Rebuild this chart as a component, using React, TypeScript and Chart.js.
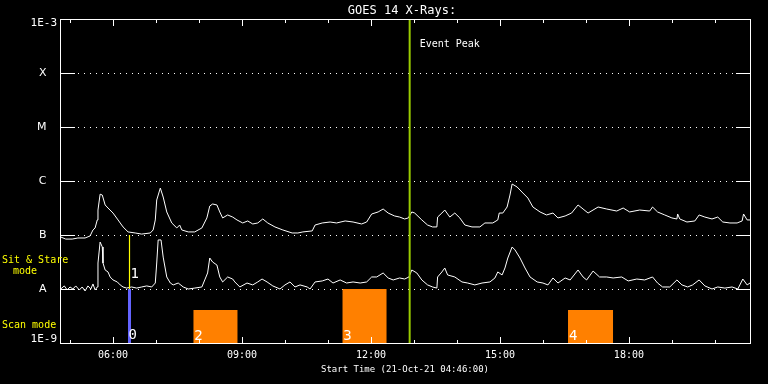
import React, { useEffect, useRef } from "react";
import { Chart, registerables } from "chart.js";

Chart.register(...registerables);

// ---- axis ranges / ticks ----
const startTime = "04:46";
const endTime = "20:49";
const hourTicks = ["05:00","06:00","07:00","08:00","09:00","10:00","11:00","12:00","13:00","14:00","15:00","16:00","17:00","18:00","19:00","20:00"];
const yTickValues = [1e-9, 1e-8, 1e-7, 1e-6, 1e-5, 1e-4, 1e-3];
const yTickLabels = ["1E-9", "A", "B", "C", "M", "X", "1E-3"];

// ---- GOES long channel (1-8 Å), W/m² ----
const longTimes = [
  "04:47","04:54","05:03","05:11","05:21","05:28","05:32","05:35","05:38","05:39",
  "05:42","05:45","05:49","05:53","06:00","06:07","06:14","06:21","06:31","06:40",
  "06:52","06:56","06:59","07:01","07:06","07:10","07:15","07:22","07:29","07:33",
  "07:36","07:45","07:54","08:04","08:11","08:15","08:19","08:25","08:29","08:33",
  "08:40","08:47","08:53","09:01","09:08","09:15","09:22","09:29","09:36","09:46",
  "09:57","10:10","10:18","10:25","10:38","10:42","10:52","11:03","11:12","11:24",
  "11:35","11:47","11:54","12:01","12:10","12:17","12:24","12:33","12:40","12:47",
  "12:52","12:57","13:01","13:11","13:19","13:26","13:32","13:33","13:39","13:43",
  "13:50","13:57","14:04","14:11","14:21","14:32","14:39","14:50","14:57","14:59",
  "15:04","15:10","15:14","15:17","15:24","15:32","15:39","15:46","15:56","16:05",
  "16:14","16:21","16:31","16:40","16:49","16:56","17:03","17:17","17:29","17:43",
  "17:52","18:01","18:15","18:29","18:33","18:40","18:50","19:00","19:07","19:08",
  "19:11","19:21","19:32","19:38","19:46","19:56","20:04","20:11","20:21","20:31",
  "20:38","20:40","20:45","20:49"
];
const longFlux = [
  9.2e-8,8.4e-8,8.4e-8,8.8e-8,8.8e-8,9.6e-8,1.24e-7,1.35e-7,1.9e-7,2.9e-7,
  5.7e-7,5.5e-7,3.6e-7,3.16e-7,2.55e-7,1.9e-7,1.41e-7,1.14e-7,1.09e-7,1.04e-7,
  1.09e-7,1.24e-7,1.9e-7,4.45e-7,7.4e-7,5.05e-7,2.67e-7,1.67e-7,1.35e-7,1.53e-7,
  1.24e-7,1.14e-7,1.14e-7,1.35e-7,2.07e-7,3.44e-7,3.75e-7,3.6e-7,2.67e-7,2.07e-7,
  2.35e-7,2.15e-7,1.9e-7,1.67e-7,1.82e-7,1.6e-7,1.67e-7,1.98e-7,1.67e-7,1.41e-7,
  1.24e-7,1.09e-7,1.09e-7,1.14e-7,1.19e-7,1.53e-7,1.67e-7,1.74e-7,1.67e-7,1.82e-7,
  1.74e-7,1.6e-7,1.74e-7,2.45e-7,2.67e-7,3.03e-7,2.55e-7,2.25e-7,2.15e-7,1.98e-7,
  2.07e-7,2.67e-7,2.55e-7,1.9e-7,1.53e-7,1.41e-7,1.41e-7,2.15e-7,2.55e-7,2.9e-7,
  2.15e-7,2.55e-7,2.07e-7,1.53e-7,1.41e-7,1.41e-7,1.67e-7,1.67e-7,1.9e-7,2.55e-7,
  2.55e-7,3.3e-7,5.5e-7,8.8e-7,7.74e-7,6.0e-7,4.84e-7,3.3e-7,2.67e-7,2.35e-7,
  2.55e-7,2.07e-7,2.25e-7,2.55e-7,3.6e-7,3.03e-7,2.55e-7,3.3e-7,3.03e-7,2.78e-7,
  3.16e-7,2.67e-7,2.9e-7,2.78e-7,3.3e-7,2.67e-7,2.35e-7,2.07e-7,1.98e-7,2.45e-7,
  1.98e-7,1.74e-7,1.82e-7,2.35e-7,2.15e-7,1.98e-7,2.15e-7,1.74e-7,1.67e-7,1.67e-7,
  1.82e-7,2.45e-7,1.9e-7,1.9e-7
];

// ---- GOES short channel (0.5-4 Å), W/m² ----
const shortTimes = [
  "04:47","04:52","04:56","05:00","05:04","05:08","05:13","05:17","05:21","05:25",
  "05:29","05:32","05:35","05:38","05:39","05:42","05:45","05:46","05:49","05:53",
  "05:56","06:00","06:06","06:10","06:14","06:19","06:26","06:33","06:40","06:47",
  "06:54","06:59","07:01","07:03","07:07","07:10","07:15","07:20","07:24","07:31",
  "07:38","07:45","07:54","08:04","08:08","08:12","08:15","08:19","08:25","08:29",
  "08:33","08:40","08:47","08:50","08:57","09:07","09:15","09:22","09:28","09:35",
  "09:43","09:53","10:00","10:07","10:14","10:21","10:31","10:35","10:42","10:52",
  "11:00","11:07","11:17","11:26","11:35","11:45","11:54","12:01","12:08","12:17",
  "12:24","12:31","12:40","12:47","12:53","12:57","13:04","13:11","13:19","13:26",
  "13:32","13:33","13:39","13:43","13:47","13:57","14:07","14:15","14:25","14:35",
  "14:46","14:53","14:57","15:03","15:07","15:11","15:17","15:21","15:28","15:35",
  "15:42","15:52","16:00","16:07","16:14","16:21","16:31","16:38","16:49","16:56",
  "17:01","17:10","17:19","17:29","17:38","17:50","17:59","18:11","18:22","18:33",
  "18:40","18:47","18:57","19:07","19:14","19:22","19:29","19:38","19:46","19:56",
  "20:04","20:14","20:24","20:32","20:39","20:45","20:49"
];
const shortFlux = [
  1.0e-8,1.14e-8,9.6e-9,1.09e-8,1.0e-8,1.14e-8,9.6e-9,1.09e-8,9.2e-9,1.14e-8,
  1.0e-8,1.24e-8,9.6e-9,1.09e-8,3.03e-8,7.4e-8,6.0e-8,3.03e-8,2.25e-8,2.07e-8,
  1.67e-8,1.47e-8,1.35e-8,1.19e-8,1.09e-8,1.04e-8,1.09e-8,1.04e-8,1.09e-8,1.14e-8,
  1.09e-8,1.29e-8,3.03e-8,8.1e-8,8.1e-8,3.9e-8,1.67e-8,1.29e-8,1.19e-8,1.29e-8,
  1.09e-8,1.0e-8,1.04e-8,1.09e-8,1.47e-8,1.98e-8,3.75e-8,3.16e-8,2.78e-8,1.67e-8,
  1.35e-8,1.67e-8,1.53e-8,1.35e-8,1.09e-8,1.29e-8,1.19e-8,1.35e-8,1.53e-8,1.35e-8,
  1.14e-8,1.0e-8,1.19e-8,1.35e-8,1.09e-8,1.19e-8,1.09e-8,1.0e-8,1.35e-8,1.41e-8,
  1.53e-8,1.29e-8,1.47e-8,1.29e-8,1.35e-8,1.29e-8,1.35e-8,1.67e-8,1.67e-8,1.98e-8,
  1.6e-8,1.47e-8,1.6e-8,1.53e-8,1.67e-8,2.25e-8,1.98e-8,1.47e-8,1.19e-8,1.09e-8,
  1.04e-8,1.67e-8,2.07e-8,2.45e-8,1.82e-8,1.67e-8,1.35e-8,1.29e-8,1.19e-8,1.29e-8,
  1.35e-8,1.6e-8,2.07e-8,1.82e-8,2.45e-8,3.75e-8,6.0e-8,5.3e-8,3.75e-8,2.45e-8,
  1.67e-8,1.35e-8,1.29e-8,1.19e-8,1.6e-8,1.29e-8,1.6e-8,1.47e-8,2.25e-8,1.67e-8,
  1.47e-8,2.15e-8,1.67e-8,1.67e-8,1.6e-8,1.67e-8,1.41e-8,1.53e-8,1.47e-8,1.67e-8,
  1.29e-8,1.09e-8,1.09e-8,1.47e-8,1.19e-8,1.09e-8,1.19e-8,1.47e-8,1.14e-8,1.0e-8,
  1.09e-8,1.04e-8,1.09e-8,1.0e-8,1.53e-8,1.19e-8,1.29e-8
];

// ---- observation markers ----
const scanStarts = ["07:52", "11:20", "16:35"];
const scanEnds = ["08:54", "12:22", "17:38"];
const scanTops = [4.1e-9, 1.0e-8, 4.1e-9];
const scanLabels = ["2", "3", "4"];
const sitStareTime = "06:23";
const sitStareLabels = ["0", "1"];
const eventPeakTime = "12:54";

const toMin = (s: string) => {
  const [h, m] = s.split(":").map(Number);
  return h * 60 + m;
};
const pad2 = (n: number) => (n < 10 ? "0" + n : "" + n);

const MONO = "'DejaVu Sans Mono', 'Liberation Mono', monospace";
const SANS = "'DejaVu Sans', 'Liberation Sans', sans-serif";

const overlay = {
  id: "idlOverlay",
  beforeDatasetsDraw(chart: any) {
    const { ctx, chartArea: a, scales } = chart;
    const y = scales.y;
    ctx.save();
    ctx.strokeStyle = "#ffffff";
    ctx.lineWidth = 1;
    ctx.setLineDash([1, 5]);
    for (const v of yTickValues.slice(1, -1)) {
      const py = Math.round(y.getPixelForValue(v)) + 0.5;
      ctx.beginPath();
      ctx.moveTo(a.left, py);
      ctx.lineTo(a.right, py);
      ctx.stroke();
    }
    ctx.restore();
  },
  afterDatasetsDraw(chart: any) {
    const { ctx, chartArea: a, scales } = chart;
    const x = scales.x;
    const y = scales.y;
    ctx.save();
    ctx.strokeStyle = "#ffffff";
    ctx.lineWidth = 1;
    ctx.setLineDash([]);
    // frame
    ctx.strokeRect(a.left + 0.5, a.top + 0.5, a.right - a.left, a.bottom - a.top);
    // y inner ticks
    for (const v of yTickValues.slice(1, -1)) {
      const py = Math.round(y.getPixelForValue(v)) + 0.5;
      ctx.beginPath();
      ctx.moveTo(a.left, py);
      ctx.lineTo(a.left + 15, py);
      ctx.moveTo(a.right - 14, py);
      ctx.lineTo(a.right + 1, py);
      ctx.stroke();
    }
    // x inner ticks
    for (const t of hourTicks) {
      const v = toMin(t);
      const major = (v / 60) % 3 === 0;
      const len = major ? 7 : 4;
      const px = Math.round(x.getPixelForValue(v)) + 0.5;
      ctx.beginPath();
      ctx.moveTo(px, a.top);
      ctx.lineTo(px, a.top + len);
      ctx.moveTo(px, a.bottom + 1);
      ctx.lineTo(px, a.bottom + 1 - len);
      ctx.stroke();
    }
    // texts
    ctx.textBaseline = "alphabetic";
    ctx.fillStyle = "#ffffff";
    ctx.textAlign = "center";
    ctx.font = `12px ${MONO}`;
    ctx.fillText("GOES 14 X-Rays:", 402, 14);
    ctx.textAlign = "left";
    ctx.font = `10px ${MONO}`;
    ctx.fillText("Event Peak", x.getPixelForValue(toMin(eventPeakTime)) + 10, 47);
    ctx.font = `14px ${MONO}`;
    const sx = x.getPixelForValue(toMin(sitStareTime));
    ctx.fillText(sitStareLabels[0], sx - 1, 339);
    ctx.fillText(sitStareLabels[1], sx + 1, 278);
    scanStarts.forEach((s, i) => {
      ctx.fillText(scanLabels[i], x.getPixelForValue(toMin(s)) + 1, 340);
    });
    ctx.fillStyle = "#ffff00";
    ctx.font = `10px ${MONO}`;
    ctx.fillText("Sit & Stare", 2, 263);
    ctx.fillText("mode", 13, 274);
    ctx.fillText("Scan mode", 2, 328);
    ctx.restore();
  },
};

export default function App() {
  const ref = useRef<HTMLCanvasElement | null>(null);
  useEffect(() => {
    document.body.style.margin = "0";
    document.body.style.background = "#000";
    const canvas = ref.current;
    if (!canvas) return;
    const bottom = yTickValues[0];
    const datasets: any[] = [
      {
        label: "long",
        data: longTimes.map((t, i) => ({ x: toMin(t), y: longFlux[i] })),
        borderColor: "#ffffff",
        borderWidth: 1,
        pointRadius: 0,
        tension: 0,
        order: 2,
      },
      {
        label: "short",
        data: shortTimes.map((t, i) => ({ x: toMin(t), y: shortFlux[i] })),
        borderColor: "#ffffff",
        borderWidth: 1,
        pointRadius: 0,
        tension: 0,
        order: 2,
      },
      ...scanStarts.map((s, i) => ({
        label: "scan" + scanLabels[i],
        data: [
          { x: toMin(s), y: bottom },
          { x: toMin(s), y: scanTops[i] },
          { x: toMin(scanEnds[i]), y: scanTops[i] },
          { x: toMin(scanEnds[i]), y: bottom },
        ],
        borderWidth: 0,
        borderColor: "rgba(0,0,0,0)",
        backgroundColor: "#ff8000",
        fill: "start",
        pointRadius: 0,
        tension: 0,
        order: 3,
      })),
      {
        label: "sitstare0",
        data: [
          { x: toMin(sitStareTime), y: 1e-9 },
          { x: toMin(sitStareTime), y: 1e-8 },
        ],
        borderColor: "#6464ff",
        borderWidth: 3,
        pointRadius: 0,
        order: 1,
      },
      {
        label: "sitstare1",
        data: [
          { x: toMin(sitStareTime), y: 1e-8 },
          { x: toMin(sitStareTime), y: 1e-7 },
        ],
        borderColor: "#ffff00",
        borderWidth: 1.2,
        pointRadius: 0,
        order: 0,
      },
      {
        label: "peak",
        data: [
          { x: toMin(eventPeakTime), y: 1e-9 },
          { x: toMin(eventPeakTime), y: 1e-3 },
        ],
        borderColor: "#99cc00",
        borderWidth: 2,
        pointRadius: 0,
        order: 0,
      },
    ];

    const chart = new Chart(canvas, {
      type: "line",
      data: { datasets },
      options: {
        animation: false,
        responsive: true,
        maintainAspectRatio: false,
        layout: { padding: { top: 19, right: 18, left: 0, bottom: 0 } },
        plugins: {
          legend: { display: false },
          tooltip: { enabled: false },
          title: { display: false },
        },
        scales: {
          x: {
            type: "linear",
            min: toMin(startTime),
            max: toMin(endTime),
            grid: { display: false, drawTicks: false },
            border: { display: false },
            afterBuildTicks: (scale: any) => {
              scale.ticks = hourTicks.map((t) => ({ value: toMin(t) }));
            },
            afterFit: (scale: any) => {
              scale.height = 41;
            },
            ticks: {
              autoSkip: false,
              maxRotation: 0,
              color: "#ffffff",
              padding: 6,
              font: { family: MONO, size: 10 },
              callback: (v: any) => {
                const h = Math.round(Number(v) / 60);
                return h % 3 === 0 ? pad2(h) + ":00" : "";
              },
            },
            title: {
              display: true,
              text: "Start Time (21-Oct-21 04:46:00)",
              color: "#ffffff",
              font: { family: MONO, size: 9 },
              padding: { top: 0, bottom: 9 },
            },
          },
          y: {
            type: "logarithmic",
            min: 1e-9,
            max: 1e-3,
            grid: { display: false, drawTicks: false },
            border: { display: false },
            afterBuildTicks: (scale: any) => {
              scale.ticks = yTickValues.map((v) => ({ value: v }));
            },
            afterFit: (scale: any) => {
              scale.width = 60;
            },
            ticks: {
              autoSkip: false,
              color: "#ffffff",
              padding: 3,
              font: (c: any) => {
                const i = c.index;
                if (i === 0 || i === yTickValues.length - 1) {
                  return { family: MONO, size: 11, lineHeight: 0.75 };
                }
                return { family: SANS, size: 11 };
              },
              callback: (_v: any, i: number) => {
                const lab = yTickLabels[i];
                if (i === 0) return [lab, ""];
                if (i === yTickValues.length - 1) return ["", lab];
                return lab + "   ";
              },
            },
          },
        },
      },
      plugins: [overlay],
    } as any);
    return () => chart.destroy();
  }, []);

  return (
    <div style={{ position: "fixed", left: 0, top: 0, width: 768, height: 384, background: "#000" }}>
      <canvas ref={ref} />
    </div>
  );
}
